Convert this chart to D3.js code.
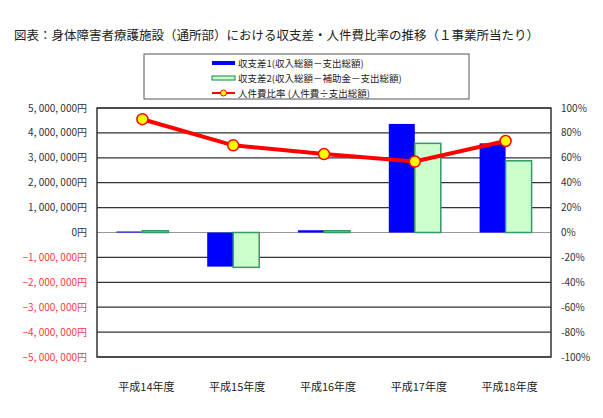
<!DOCTYPE html>
<html>
<head>
<meta charset="utf-8">
<script src="https://cdn.jsdelivr.net/npm/d3@7"></script>
<style>
  body { margin: 0; background: #fff; }
  svg text { font-family: "Noto Sans CJK JP", "Noto Sans", sans-serif; }
</style>
</head>
<body>
<svg id="chart" width="603" height="418"></svg>
<script>
// data
const categories = ["平成14年度", "平成15年度", "平成16年度", "平成17年度", "平成18年度"];
const balance1 = [40000, -1370000, 90000, 4360000, 3580000];   // 収支差1
const balance2 = [70000, -1400000, 70000, 3580000, 2880000];   // 収支差2
const laborRatio = [91, 70, 63, 57, 73.5];                     // 人件費比率 (%)
const leftTicks = [5000000, 4000000, 3000000, 2000000, 1000000, 0, -1000000, -2000000, -3000000, -4000000, -5000000];
const rightTicks = [100, 80, 60, 40, 20, 0, -20, -40, -60, -80, -100];
const seriesNames = ["収支差1(収入総額－支出総額)", "収支差2(収入総額－補助金－支出総額)", "人件費比率 (人件費÷支出総額)"];

const svg = d3.select("#chart");
const plot = {left: 97, right: 551, top: 108, bottom: 357};

let x = d3.scaleBand()
  .domain(categories)
  .range([plot.left, plot.right]);

let xInner = d3.scaleBand()
  .domain(["b1", "b2"])
  .range([0, 52]);

let yL = d3.scaleLinear().domain([-5000000, 5000000]).range([plot.bottom, plot.top]);
let yR = d3.scaleLinear().domain([-100, 100]).range([plot.bottom, plot.top]);

// title
svg.append("text")
  .attr("x", 14)
  .attr("y", 40)
  .attr("font-size", 12.5)
  .attr("fill", "#222")
  .text("図表：身体障害者療護施設（通所部）における収支差・人件費比率の推移（１事業所当たり）");

// gridlines
svg.append("g")
  .selectAll("line")
  .data(leftTicks)
  .join("line")
  .attr("x1", plot.left)
  .attr("x2", plot.right)
  .attr("y1", d => yL(d))
  .attr("y2", d => yL(d))
  .attr("stroke", d => d == 0 ? "#999" : "#333")
  .attr("stroke-width", 1.2);

// frame
svg.append("rect")
  .attr("x", plot.left)
  .attr("y", plot.top)
  .attr("width", plot.right - plot.left)
  .attr("height", plot.bottom - plot.top)
  .attr("fill", "none")
  .attr("stroke", "#333")
  .attr("stroke-width", 1.5);

// left axis labels
const fmt = d3.format(",");
svg.append("g")
  .selectAll("text")
  .data(leftTicks)
  .join("text")
  .attr("x", 87)
  .attr("y", d => yL(d) + 3.5)
  .attr("text-anchor", "end")
  .attr("font-size", 10)
  .attr("fill", d => d < 0 ? "#ff3b3b" : "#333")
  .text(d => fmt(d).replace(/,/g, ", ") + "円");

// right axis labels
svg.append("g")
  .selectAll("text")
  .data(rightTicks)
  .join("text")
  .attr("x", 561)
  .attr("y", d => yR(d) + 3.5)
  .attr("font-size", 10)
  .attr("fill", "#333")
  .text(d => d + "%");

// category labels
svg.append("g")
  .selectAll("text")
  .data(categories)
  .join("text")
  .attr("x", d => x(d) + x.bandwidth() / 2 + 4)
  .attr("y", 391)
  .attr("text-anchor", "middle")
  .attr("font-size", 11)
  .attr("fill", "#222")
  .text(d => d);

// bars
const groupOffset = (x.bandwidth() - 52) / 2;
svg.append("g")
  .selectAll("rect")
  .data(balance1)
  .join("rect")
  .attr("x", (d, i) => x(categories[i]) + groupOffset + xInner("b1"))
  .attr("y", d => yL(Math.max(0, d)))
  .attr("width", xInner.bandwidth())
  .attr("height", d => Math.abs(yL(d) - yL(0)))
  .attr("fill", "#0000ff");

svg.append("g")
  .selectAll("rect")
  .data(balance2)
  .join("rect")
  .attr("x", (d, i) => x(categories[i]) + groupOffset + xInner("b2"))
  .attr("y", d => yL(Math.max(0, d)))
  .attr("width", xInner.bandwidth())
  .attr("height", d => Math.abs(yL(d) - yL(0)))
  .attr("fill", "#ccffcc")
  .attr("stroke", "#339966")
  .attr("stroke-width", 1.5);

// ratio line
const line = d3.line()
  .x((d, i) => x(categories[i]) + x.bandwidth() / 2)
  .y(d => yR(d));

svg.append("path")
  .datum(laborRatio)
  .attr("d", line)
  .attr("fill", "none")
  .attr("stroke", "#ff0000")
  .attr("stroke-width", 4);

svg.append("g")
  .selectAll("circle")
  .data(laborRatio)
  .join("circle")
  .attr("cx", (d, i) => x(categories[i]) + x.bandwidth() / 2)
  .attr("cy", d => yR(d))
  .attr("r", 5.5)
  .attr("fill", "#ffff00")
  .attr("stroke", "#ff0000")
  .attr("stroke-width", 1.5);

// legend
const legend = svg.append("g");
legend.append("rect")
  .attr("x", 144)
  .attr("y", 54)
  .attr("width", 325)
  .attr("height", 45)
  .attr("fill", "#fff")
  .attr("stroke", "#555")
  .attr("stroke-width", 1);

const rows = [63, 78, 93];
legend.append("rect")
  .attr("x", 212).attr("y", rows[0] - 2)
  .attr("width", 23).attr("height", 4)
  .attr("fill", "#0000ff");
legend.append("rect")
  .attr("x", 212).attr("y", rows[1] - 2)
  .attr("width", 23).attr("height", 4)
  .attr("fill", "#ccffcc")
  .attr("stroke", "#339966")
  .attr("stroke-width", 1.2);
legend.append("line")
  .attr("x1", 212).attr("x2", 235)
  .attr("y1", rows[2]).attr("y2", rows[2])
  .attr("stroke", "#ff0000")
  .attr("stroke-width", 2);
legend.append("circle")
  .attr("cx", 223.5).attr("cy", rows[2])
  .attr("r", 3)
  .attr("fill", "#ffff00")
  .attr("stroke", "#ff0000")
  .attr("stroke-width", 1);

legend.selectAll("text.leg")
  .data(seriesNames)
  .join("text")
  .attr("class", "leg")
  .attr("x", 238)
  .attr("y", (d, i) => rows[i] + 3.5)
  .attr("font-size", 9.5)
  .attr("fill", "#222")
  .text(d => d);
</script>
</body>
</html>
